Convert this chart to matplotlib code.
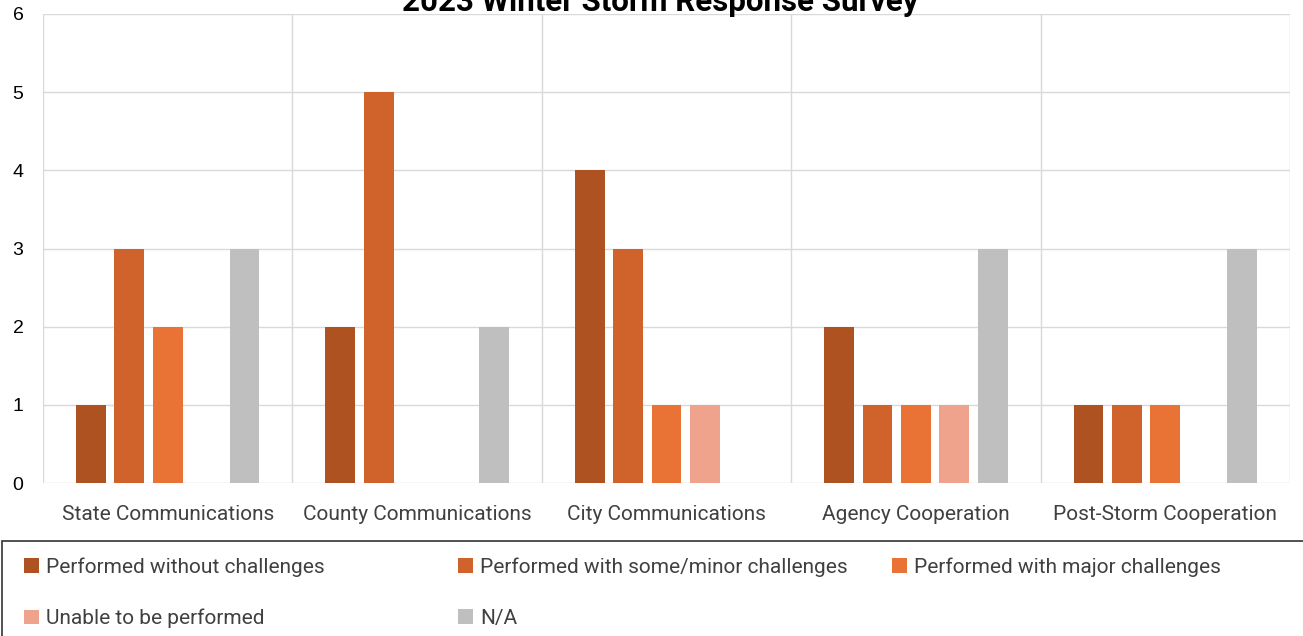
import matplotlib.pyplot as plt
import numpy as np
from matplotlib.patches import Rectangle

categories = ['State Communications', 'County Communications', 'City Communications',
              'Agency Cooperation', 'Post-Storm Cooperation']
series = ['Performed without challenges', 'Performed with some/minor challenges',
          'Performed with major challenges', 'Unable to be performed', 'N/A']
without_chal = [1, 2, 4, 2, 1]
minor_chal = [3, 5, 3, 1, 1]
major_chal = [2, 0, 1, 1, 1]
unable = [0, 0, 1, 1, 0]
not_applicable = [3, 2, 0, 3, 3]
colors = ['#AD5220', '#D0622C', '#E97334', '#F0A38C', '#BFBFBF']

plt.rcParams['font.family'] = ['Roboto', 'DejaVu Sans']

fig = plt.figure(figsize=(13.03, 6.36), dpi=100)
ax = fig.add_axes([43 / 1303, 1 - 483 / 636, 1247 / 1303, 469 / 636])

data = [without_chal, minor_chal, major_chal, unable, not_applicable]
x = np.arange(len(categories))
step = 0.154
for i, (vals, c, name) in enumerate(zip(data, colors, series)):
    ax.bar(x + (i - 2) * step, vals, width=0.12, color=c, label=name, zorder=3)

ax.set_xlim(-0.5, 4.5)
ax.set_ylim(0, 6)
ax.set_yticks(range(7))
ax.set_xticks(x)
ax.set_xticklabels(categories, fontsize=15, color='#404040')
ax.set_xticks(np.arange(-0.5, 5, 1), minor=True)
ax.tick_params(axis='x', which='both', length=0, pad=16)
ax.tick_params(axis='y', length=0, pad=14, labelsize=14)
for lab in ax.get_yticklabels():
    lab.set_family(['Liberation Sans', 'DejaVu Sans'])
ax.grid(axis='y', color='#D9D9D9', lw=1, zorder=0)
ax.grid(axis='x', which='minor', color='#D9D9D9', lw=1, zorder=0)
for s in ax.spines.values():
    s.set_visible(False)

# title sits partly above the top edge, as in the source image
fig.text(660 / 1303, 1 - 2 / 636, '2023 Winter Storm Response Survey', fontsize=22.5,
         fontweight='bold', ha='center', va='center')

# legend box, cut by the bottom and right edges
fig.patches.append(Rectangle((2 / 1303, -0.1), 1.2, 1 - 541 / 636 + 0.1,
                             transform=fig.transFigure, fill=False,
                             edgecolor='#333333', lw=1.2))

handles, labels = ax.get_legend_handles_labels()
cols = [[0, 3], [1, 4], [2]]
col_x = [24, 458, 892]
for xs, idx in zip(col_x, cols):
    lg = fig.legend([handles[k] for k in idx], [labels[k] for k in idx],
                    loc='upper left', bbox_to_anchor=(xs / 1303, 1 - 557 / 636),
                    frameon=False, fontsize=15,
                    handlelength=0.7, handleheight=0.7, handletextpad=0.35,
                    labelspacing=1.55, borderaxespad=0, borderpad=0,
                    labelcolor='#404040')

fig.savefig('out.png', dpi=100)
